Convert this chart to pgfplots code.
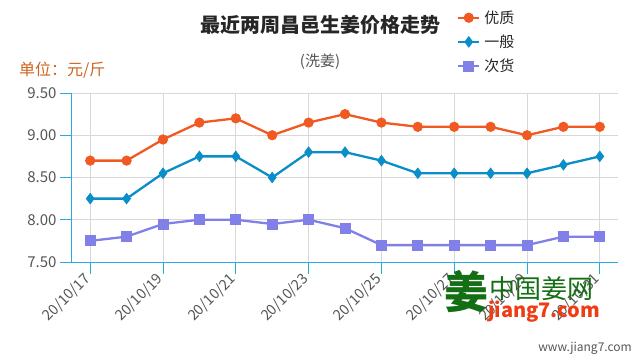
\documentclass[border=0pt]{standalone}
\usepackage{fontspec}
\setmainfont{Noto Sans CJK SC}
\usepackage{pgfplots}
\pgfplotsset{compat=1.18}
\definecolor{cA}{RGB}{240,90,34}
\definecolor{cB}{RGB}{10,142,200}
\definecolor{cC}{RGB}{128,128,232}
\definecolor{axc}{RGB}{40,170,225}
\definecolor{gridc}{RGB}{216,216,216}
\definecolor{txt}{RGB}{85,85,85}
\definecolor{unitc}{RGB}{205,100,30}
\definecolor{wmg}{RGB}{20,110,20}
\definecolor{wmr}{RGB}{240,60,20}
\begin{document}
\begin{tikzpicture}[x=1pt,y=1pt]
\useasboundingbox (0,0) rectangle (640,360);
\begin{axis}[
  at={(72pt,98pt)}, anchor=south west,
  scale only axis, width=546pt, height=169pt,
  xmin=-0.5, xmax=14.5, ymin=7.5, ymax=9.5,
  axis x line*=bottom, axis y line*=left,
  axis line style={axc, line width=1pt},
  xtick={0,2,...,14},
  xticklabels={20/10/17,20/10/19,20/10/21,20/10/23,20/10/25,20/10/27,20/10/29,20/10/31},
  ytick={7.5,8,8.5,9,9.5},
  yticklabels={7.50,8.00,8.50,9.00,9.50},
  tick align=outside, major tick length=12pt,
  tick style={axc, line width=1pt},
  grid=major, major grid style={gridc, line width=1pt},
  x tick label style={rotate=45, anchor=east, font=\fontsize{14.5}{14.5}\selectfont, text=txt},
  y tick label style={font=\fontsize{15}{15}\selectfont, text=txt},
  legend style={at={(axis description cs:0.705,1.50)}, anchor=north west, draw=none, fill=none,
    font=\fontsize{15}{15}\selectfont, row sep=6pt, inner sep=0pt, text=black!85,
    nodes={inner xsep=4pt}},
  legend cell align=left,
  legend image code/.code={\draw[#1, mark=none] (0pt,0pt) -- (21pt,0pt); \draw[#1, only marks] plot coordinates {(10.5pt,0pt)};},
]
\addplot[cA, line width=2.3pt, mark=*, mark size=4.7pt, mark options={solid, line width=0.8pt}] coordinates {
(0,8.70)(1,8.70)(2,8.95)(3,9.15)(4,9.20)(5,9.00)(6,9.15)(7,9.25)(8,9.15)(9,9.10)(10,9.10)(11,9.10)(12,9.00)(13,9.10)(14,9.10)};
\addlegendentry{优质}
\addplot[cB, line width=2.3pt, mark=diamond*, mark size=5.2pt, mark options={solid, line width=0.8pt}] coordinates {
(0,8.25)(1,8.25)(2,8.55)(3,8.75)(4,8.75)(5,8.50)(6,8.80)(7,8.80)(8,8.70)(9,8.55)(10,8.55)(11,8.55)(12,8.55)(13,8.65)(14,8.75)};
\addlegendentry{一般}
\addplot[cC, line width=2.3pt, mark=square*, mark size=5pt, mark options={solid, line width=0.8pt}] coordinates {
(0,7.75)(1,7.80)(2,7.95)(3,8.00)(4,8.00)(5,7.95)(6,8.00)(7,7.90)(8,7.70)(9,7.70)(10,7.70)(11,7.70)(12,7.70)(13,7.80)(14,7.80)};
\addlegendentry{次货}
\end{axis}
\node[font=\fontsize{20}{20}\selectfont\bfseries, text=black!85] at (320,335) {最近两周昌邑生姜价格走势};
\node[font=\fontsize{15}{15}\selectfont, text=txt] at (320,298) {(洗姜)};
\node[font=\fontsize{16}{16}\selectfont, text=unitc, anchor=west, inner sep=0pt] at (19,290) {单位：元/斤};
\node[font=\fontsize{44}{44}\selectfont\bfseries, text=wmg, inner sep=0pt] at (466,68) {姜};
\node[font=\fontsize{26}{26}\selectfont, text=wmg, anchor=west, inner sep=0pt] at (489,71) {中国姜网};
\node[font=\fontsize{20}{20}\selectfont\bfseries\itshape, text=wmr, anchor=west, inner sep=0pt] at (488,48) {jiang7.com};
\node[font=\fontsize{12}{12}\selectfont, text=txt, anchor=east, inner sep=0pt] at (632,12) {www.jiang7.com};
\end{tikzpicture}
\end{document}
